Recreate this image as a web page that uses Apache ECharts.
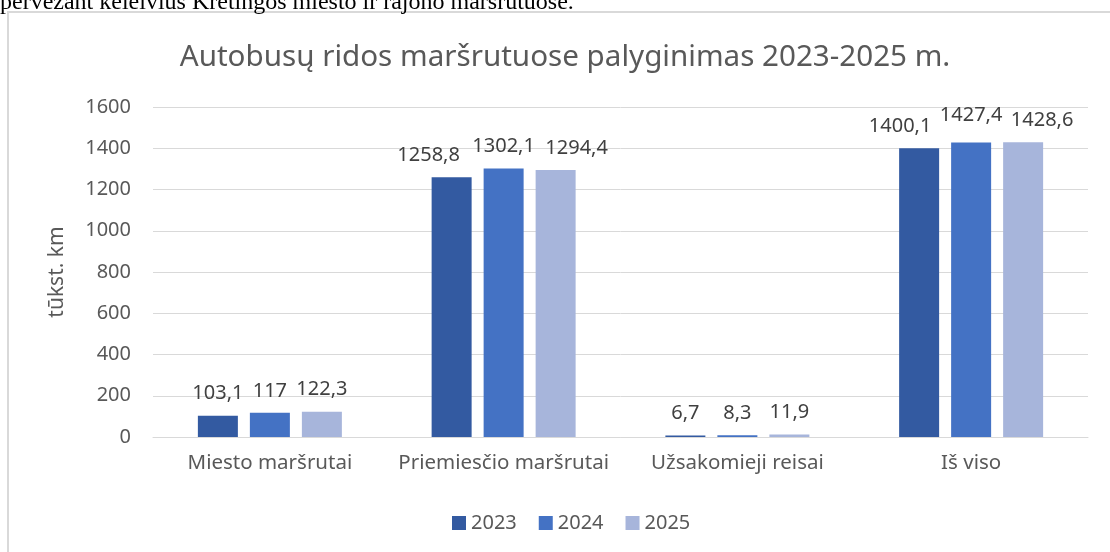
<!DOCTYPE html>
<html>
<head>
<meta charset="utf-8">
<script src="https://cdn.jsdelivr.net/npm/echarts@6/dist/echarts.min.js"></script>
<style>
  html, body { margin: 0; padding: 0; background: #fff; }
  #main { width: 1110px; height: 552px; }
</style>
</head>
<body>
<div id="main"></div>
<script>
var categories = ['Miesto maršrutai', 'Priemiesčio maršrutai', 'Užsakomieji reisai', 'Iš viso'];
var years = ['2023', '2024', '2025'];
var values2023 = [103.1, 1258.8, 6.7, 1400.1];
var values2024 = [117, 1302.1, 8.3, 1427.4];
var values2025 = [122.3, 1294.4, 11.9, 1428.6];
var colors = ['#335AA1', '#4472C4', '#A7B5DB'];

// label nudges so the numbers don't overlap (like Excel does)
var labelNudge = [
    [[0, 0], [-23, 0], [0, 0], [-19, 0]],
    [[0, 0], [0, 0], [0, 0], [0, -5]],
    [[0, 0], [21, 0], [0, 0], [19, 0]]
];

var font = 'Noto Sans';

function fmt(p) {
    return String(p.value).replace('.', ',');
}

function makeSeries(idx, data) {
    return {
        name: years[idx],
        type: 'bar',
        data: data.map(function (v, i) {
            return { value: v, label: { offset: labelNudge[idx][i] } };
        }),
        barWidth: 40,
        barGap: '30%',
        itemStyle: { color: colors[idx] },
        label: {
            show: true,
            position: 'top',
            distance: 12,
            formatter: fmt,
            color: '#404040',
            fontSize: 20,
            fontFamily: font
        }
    };
}

var myChart = echarts.init(document.getElementById('main'));

var option = {
    animation: false,
    textStyle: { fontFamily: font },
    title: {
        text: 'Autobusų ridos maršrutuose palyginimas 2023-2025 m.',
        left: 560,
        textAlign: 'center',
        top: 38,
        textStyle: {
            color: '#595959',
            fontSize: 29.6,
            fontWeight: 'normal',
            fontFamily: font
        }
    },
    graphic: [
        {
            type: 'rect',
            shape: { x: 8, y: 12, width: 1120, height: 560 },
            style: { fill: 'none', stroke: '#D9D9D9', lineWidth: 2 }
        },
        {
            type: 'text',
            left: 0,
            top: -9,
            style: {
                text: 'pervežant keleivius Kretingos miesto ir rajono maršrutuose.',
                font: '24px "Liberation Serif"',
                fill: '#000'
            }
        }
    ],
    legend: {
        data: years,
        top: 508,
        left: 447,
        itemWidth: 14,
        itemHeight: 14,
        itemGap: 22,
        icon: 'rect',
        textStyle: { color: '#595959', fontSize: 20, fontFamily: font }
    },
    grid: {
        left: 153,
        right: 22,
        top: 107,
        bottom: 115
    },
    xAxis: {
        type: 'category',
        data: categories,
        axisTick: { show: false },
        axisLine: { lineStyle: { color: '#D9D9D9' } },
        axisLabel: {
            interval: 0,
            color: '#595959',
            fontSize: 20.5,
            margin: 16,
            fontFamily: font
        }
    },
    yAxis: {
        type: 'value',
        min: 0,
        max: 1600,
        interval: 200,
        name: 'tūkst. km',
        nameLocation: 'middle',
        nameGap: 85,
        nameTextStyle: { color: '#595959', fontSize: 21, fontFamily: font },
        axisLabel: {
            color: '#595959',
            fontSize: 20,
            margin: 22,
            fontFamily: font,
            formatter: function (v) { return String(v); }
        },
        splitLine: { lineStyle: { color: '#D9D9D9' } }
    },
    series: [
        makeSeries(0, values2023),
        makeSeries(1, values2024),
        makeSeries(2, values2025)
    ]
};

myChart.setOption(option);
</script>
</body>
</html>
